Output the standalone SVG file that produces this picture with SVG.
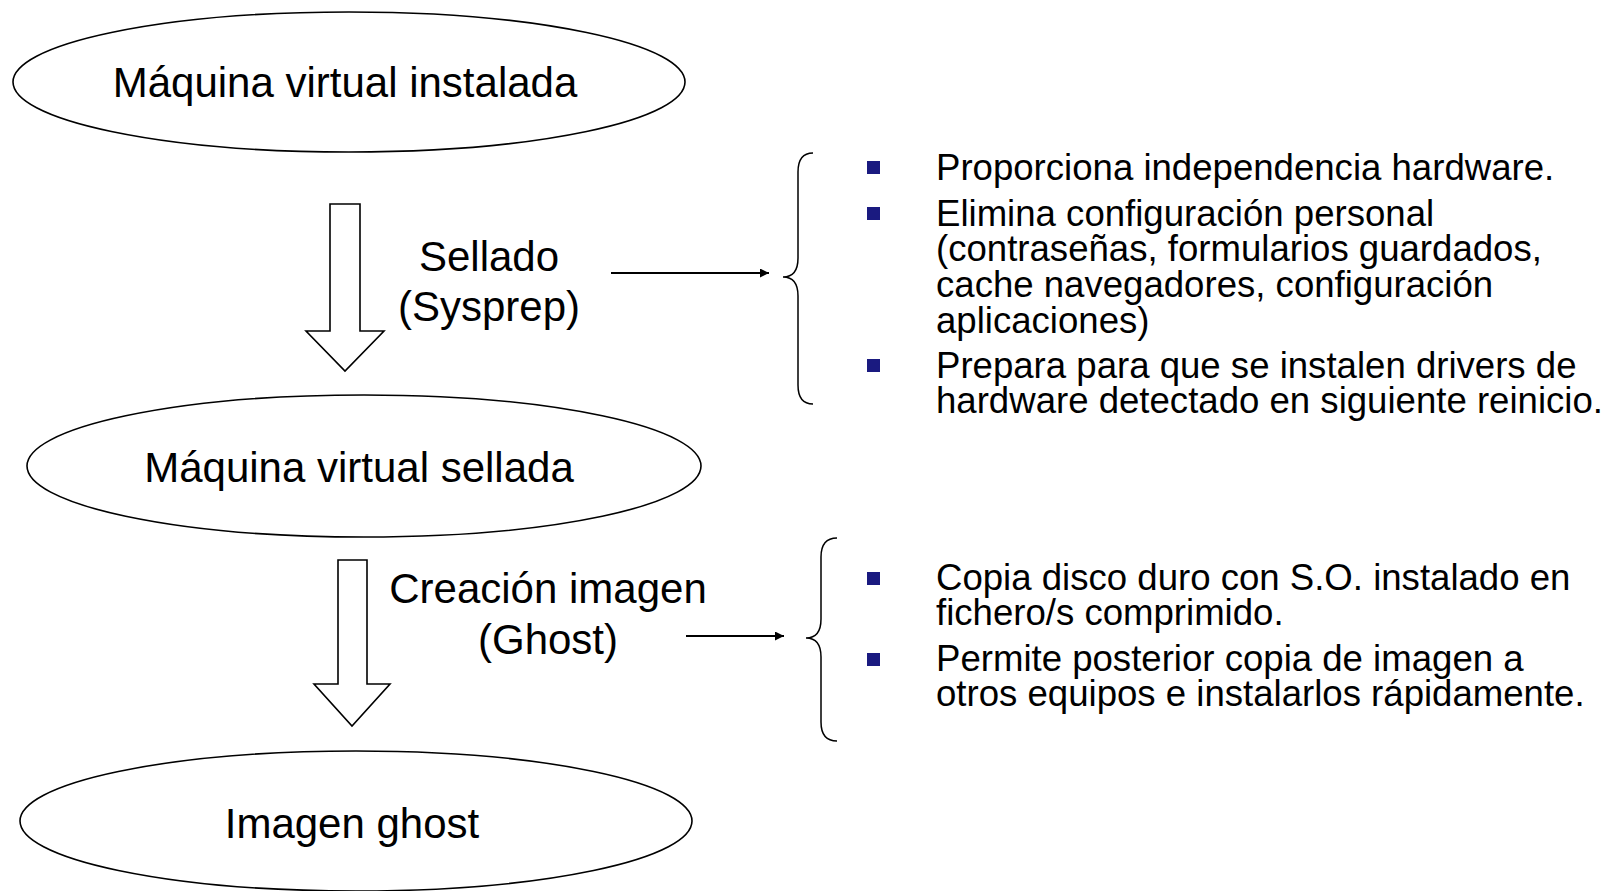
<svg xmlns="http://www.w3.org/2000/svg" width="1623" height="891" viewBox="0 0 1623 891">
<defs>
<style>
.node ellipse{fill:#fff;stroke:#000;stroke-width:1.6}
.lbl{font-family:"Liberation Sans",Arial,sans-serif;font-size:42px;fill:#000;text-anchor:middle}
.blt{font-family:"Liberation Sans",Arial,sans-serif;font-size:36.6px;fill:#000}
.sq{fill:#1a1a80}
.hollow{fill:#fff;stroke:#000;stroke-width:1.6;stroke-linejoin:miter}
.conn{fill:none;stroke:#000;stroke-width:1.8}
.brace{fill:none;stroke:#000;stroke-width:1.5}
</style>
<marker id="ah" viewBox="0 0 10 10" refX="10" refY="5" markerWidth="9" markerHeight="9" markerUnits="userSpaceOnUse" orient="auto">
<path d="M0,0 L10,5 L0,10 z" fill="#000"/>
</marker>
</defs>
<rect width="1623" height="891" fill="#fff"/>
<g id="n1" class="node">
<ellipse cx="349" cy="82" rx="336" ry="70"/>
<text class="lbl" x="345" y="97">Máquina virtual instalada</text>
</g>
<g id="n2" class="node">
<ellipse cx="364" cy="466" rx="337" ry="71"/>
<text class="lbl" x="359" y="482">Máquina virtual sellada</text>
</g>
<g id="n3" class="node">
<ellipse cx="356" cy="821" rx="336" ry="70"/>
<text class="lbl" x="352" y="838">Imagen ghost</text>
</g>
<g id="connectors">
<path class="hollow" d="M330,204 L360,204 L360,331 L384,331 L345,371 L306,331 L330,331 Z"/>
<path class="hollow" d="M338,560 L367,560 L367,684 L390,684 L352,726 L314,684 L338,684 Z"/>
<line class="conn" x1="611" y1="273" x2="769" y2="273" marker-end="url(#ah)"/>
<line class="conn" x1="686" y1="636" x2="784" y2="636" marker-end="url(#ah)"/>
</g>
<g id="label-sellado">
<text class="lbl" x="489" y="271">Sellado</text>
<text class="lbl" x="489" y="321">(Sysprep)</text>
</g>
<g id="label-creacion">
<text class="lbl" x="548" y="603">Creación imagen</text>
<text class="lbl" x="548" y="654">(Ghost)</text>
</g>
<g id="brace1">
<path class="brace" d="M813,153 Q798,153 798,172 L798,258 Q798,277 783,277 Q798,277 798,296 L798,385 Q798,404 813,404"/>
</g>
<g id="brace2">
<path class="brace" d="M837,538 Q821,538 821,557 L821,619 Q821,638 806,638 Q821,638 821,657 L821,722 Q821,741 837,741"/>
</g>
<g id="list1">
<rect class="sq" x="867" y="161" width="13" height="13"/>
<rect class="sq" x="867" y="207" width="13" height="13"/>
<rect class="sq" x="867" y="359" width="13" height="13"/>
<text class="blt" x="936" y="180">Proporciona independencia hardware.</text>
<text class="blt" x="936" y="226">Elimina configuración personal</text>
<text class="blt" x="936" y="261">(contraseñas, formularios guardados,</text>
<text class="blt" x="936" y="297">cache navegadores, configuración</text>
<text class="blt" x="936" y="333">aplicaciones)</text>
<text class="blt" x="936" y="378">Prepara para que se instalen drivers de</text>
<text class="blt" x="936" y="413">hardware detectado en siguiente reinicio.</text>
</g>
<g id="list2">
<rect class="sq" x="867" y="572" width="13" height="13"/>
<rect class="sq" x="867" y="653" width="13" height="13"/>
<text class="blt" x="936" y="590">Copia disco duro con S.O. instalado en</text>
<text class="blt" x="936" y="625">fichero/s comprimido.</text>
<text class="blt" x="936" y="671">Permite posterior copia de imagen a</text>
<text class="blt" x="936" y="706">otros equipos e instalarlos rápidamente.</text>
</g>
</svg>
